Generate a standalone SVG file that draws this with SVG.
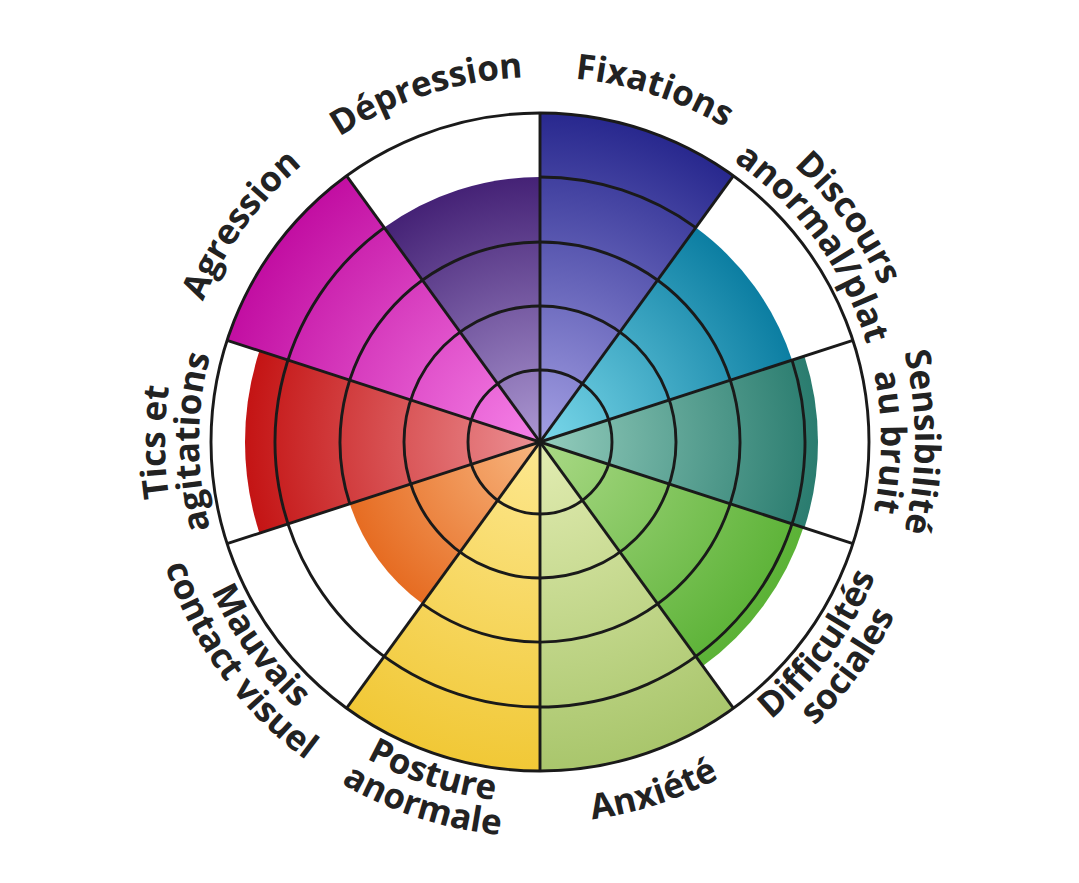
<svg xmlns="http://www.w3.org/2000/svg" xmlns:xlink="http://www.w3.org/1999/xlink" width="1079" height="883" viewBox="0 0 1079 883">
<style>
.lbl{font-family:"Open Sans","Noto Sans","Liberation Sans",sans-serif;font-weight:bold;font-size:35px;fill:#222;}
.grid{fill:none;stroke:#1a1a1a;stroke-width:2.9;}
</style>
<defs>
<radialGradient id="gFix" gradientUnits="userSpaceOnUse" cx="540" cy="442" r="329"><stop offset="0" stop-color="#a4a0e4"/><stop offset="1" stop-color="#28288e"/></radialGradient>
<radialGradient id="gDis" gradientUnits="userSpaceOnUse" cx="540" cy="442" r="265"><stop offset="0" stop-color="#7ad8ea"/><stop offset="1" stop-color="#0c7ea2"/></radialGradient>
<radialGradient id="gSen" gradientUnits="userSpaceOnUse" cx="540" cy="442" r="278"><stop offset="0" stop-color="#94cdbd"/><stop offset="1" stop-color="#2a7c6f"/></radialGradient>
<radialGradient id="gDif" gradientUnits="userSpaceOnUse" cx="540" cy="442" r="277"><stop offset="0" stop-color="#aad986"/><stop offset="1" stop-color="#5bb236"/></radialGradient>
<radialGradient id="gAnx" gradientUnits="userSpaceOnUse" cx="540" cy="442" r="329"><stop offset="0" stop-color="#e2ecb2"/><stop offset="1" stop-color="#a9c66c"/></radialGradient>
<radialGradient id="gPos" gradientUnits="userSpaceOnUse" cx="540" cy="442" r="329"><stop offset="0" stop-color="#fde890"/><stop offset="1" stop-color="#f1c836"/></radialGradient>
<radialGradient id="gMau" gradientUnits="userSpaceOnUse" cx="540" cy="442" r="200"><stop offset="0" stop-color="#f8b680"/><stop offset="1" stop-color="#e66c22"/></radialGradient>
<radialGradient id="gTic" gradientUnits="userSpaceOnUse" cx="540" cy="442" r="295"><stop offset="0" stop-color="#ec9094"/><stop offset="1" stop-color="#c41414"/></radialGradient>
<radialGradient id="gAgr" gradientUnits="userSpaceOnUse" cx="540" cy="442" r="329"><stop offset="0" stop-color="#f682e8"/><stop offset="1" stop-color="#c20ea2"/></radialGradient>
<radialGradient id="gDep" gradientUnits="userSpaceOnUse" cx="540" cy="442" r="265"><stop offset="0" stop-color="#ac98d2"/><stop offset="1" stop-color="#452276"/></radialGradient>
<path id="t365" d="M175,442 A365,365 0 0 1 905,442"/>
<path id="t375" d="M165,442 A375,375 0 0 1 915,442"/>
<path id="t341" d="M199,442 A341,341 0 0 1 881,442"/>
<path id="b361" d="M179,442 A361,361 0 0 0 901,442"/>
<path id="b395" d="M145,442 A395,395 0 0 0 935,442"/>
<path id="b381" d="M159,442 A381,381 0 0 0 921,442"/>
</defs>
<rect width="1079" height="883" fill="#ffffff"/>

<g id="sector-fixations"><path d="M540,442 L540,113 A329,329 0 0 1 733.38,175.83 Z" fill="url(#gFix)"/></g>
<g id="sector-discours"><path d="M540,442 L695.76,227.61 A265,265 0 0 1 792.03,360.11 Z" fill="url(#gDis)"/></g>
<g id="sector-sensibilite"><path d="M540,442 L804.39,356.09 A278,278 0 0 1 804.39,527.91 Z" fill="url(#gSen)"/></g>
<g id="sector-difficultes"><path d="M540,442 L803.44,527.60 A277,277 0 0 1 702.82,666.10 Z" fill="url(#gDif)"/></g>
<g id="sector-anxiete"><path d="M540,442 L733.38,708.17 A329,329 0 0 1 540,771 Z" fill="url(#gAnx)"/></g>
<g id="sector-posture"><path d="M540,442 L540,771 A329,329 0 0 1 346.62,708.17 Z" fill="url(#gPos)"/></g>
<g id="sector-mauvais"><path d="M540,442 L422.44,603.80 A200,200 0 0 1 349.79,503.80 Z" fill="url(#gMau)"/></g>
<g id="sector-tics"><path d="M540,442 L259.44,533.16 A295,295 0 0 1 259.44,350.84 Z" fill="url(#gTic)"/></g>
<g id="sector-agression"><path d="M540,442 L227.10,340.33 A329,329 0 0 1 346.62,175.83 Z" fill="url(#gAgr)"/></g>
<g id="sector-depression"><path d="M540,442 L384.24,227.61 A265,265 0 0 1 540,177 Z" fill="url(#gDep)"/></g>

<g id="connectors" class="grid">
<circle cx="540" cy="442" r="72"/>
<circle cx="540" cy="442" r="136"/>
<path d="M349.79,503.80 A200,200 0 1 1 422.44,603.80"/>
<path d="M540,177 A265,265 0 0 1 695.76,227.61"/>
<path d="M792.03,360.11 A265,265 0 1 1 384.24,227.61"/>
<circle cx="540" cy="442" r="329"/>
<line x1="540" y1="113" x2="540" y2="771"/>
<line x1="733.38" y1="175.83" x2="346.62" y2="708.17"/>
<line x1="852.90" y1="340.33" x2="227.10" y2="543.67"/>
<line x1="852.90" y1="543.67" x2="227.10" y2="340.33"/>
<line x1="733.38" y1="708.17" x2="346.62" y2="175.83"/>
</g>

<g id="label-fixations" transform="rotate(18 540 442)"><text class="lbl"><textPath xlink:href="#t365" href="#t365" startOffset="50%" text-anchor="middle">Fixations</textPath></text></g>
<g id="label-discours" transform="rotate(54 540 442)"><text class="lbl"><textPath xlink:href="#t375" href="#t375" startOffset="50%" text-anchor="middle">Discours</textPath></text><text class="lbl"><textPath xlink:href="#t341" href="#t341" startOffset="50%" text-anchor="middle">anormal/plat</textPath></text></g>
<g id="label-sensibilite" transform="rotate(90 540 442)"><text class="lbl"><textPath xlink:href="#t375" href="#t375" startOffset="50%" text-anchor="middle">Sensibilité</textPath></text><text class="lbl"><textPath xlink:href="#t341" href="#t341" startOffset="50%" text-anchor="middle">au bruit</textPath></text></g>
<g id="label-difficultes" transform="rotate(-54 540 442)"><text class="lbl"><textPath xlink:href="#b361" href="#b361" startOffset="50%" text-anchor="middle">Difficultés</textPath></text><text class="lbl"><textPath xlink:href="#b395" href="#b395" startOffset="50%" text-anchor="middle">sociales</textPath></text></g>
<g id="label-anxiete" transform="rotate(-18 540 442)"><text class="lbl"><textPath xlink:href="#b381" href="#b381" startOffset="50%" text-anchor="middle">Anxiété</textPath></text></g>
<g id="label-posture" transform="rotate(18 540 442)"><text class="lbl"><textPath xlink:href="#b361" href="#b361" startOffset="50%" text-anchor="middle">Posture</textPath></text><text class="lbl"><textPath xlink:href="#b395" href="#b395" startOffset="50%" text-anchor="middle">anormale</textPath></text></g>
<g id="label-mauvais" transform="rotate(54 540 442)"><text class="lbl"><textPath xlink:href="#b361" href="#b361" startOffset="50%" text-anchor="middle">Mauvais</textPath></text><text class="lbl"><textPath xlink:href="#b395" href="#b395" startOffset="50%" text-anchor="middle">contact visuel</textPath></text></g>
<g id="label-tics" transform="rotate(-90 540 442)"><text class="lbl"><textPath xlink:href="#t375" href="#t375" startOffset="50%" text-anchor="middle">Tics et</textPath></text><text class="lbl"><textPath xlink:href="#t341" href="#t341" startOffset="50%" text-anchor="middle">agitations</textPath></text></g>
<g id="label-agression" transform="rotate(-54 540 442)"><text class="lbl"><textPath xlink:href="#t365" href="#t365" startOffset="50%" text-anchor="middle">Agression</textPath></text></g>
<g id="label-depression" transform="rotate(-18 540 442)"><text class="lbl"><textPath xlink:href="#t365" href="#t365" startOffset="50%" text-anchor="middle">Dépression</textPath></text></g>
</svg>
